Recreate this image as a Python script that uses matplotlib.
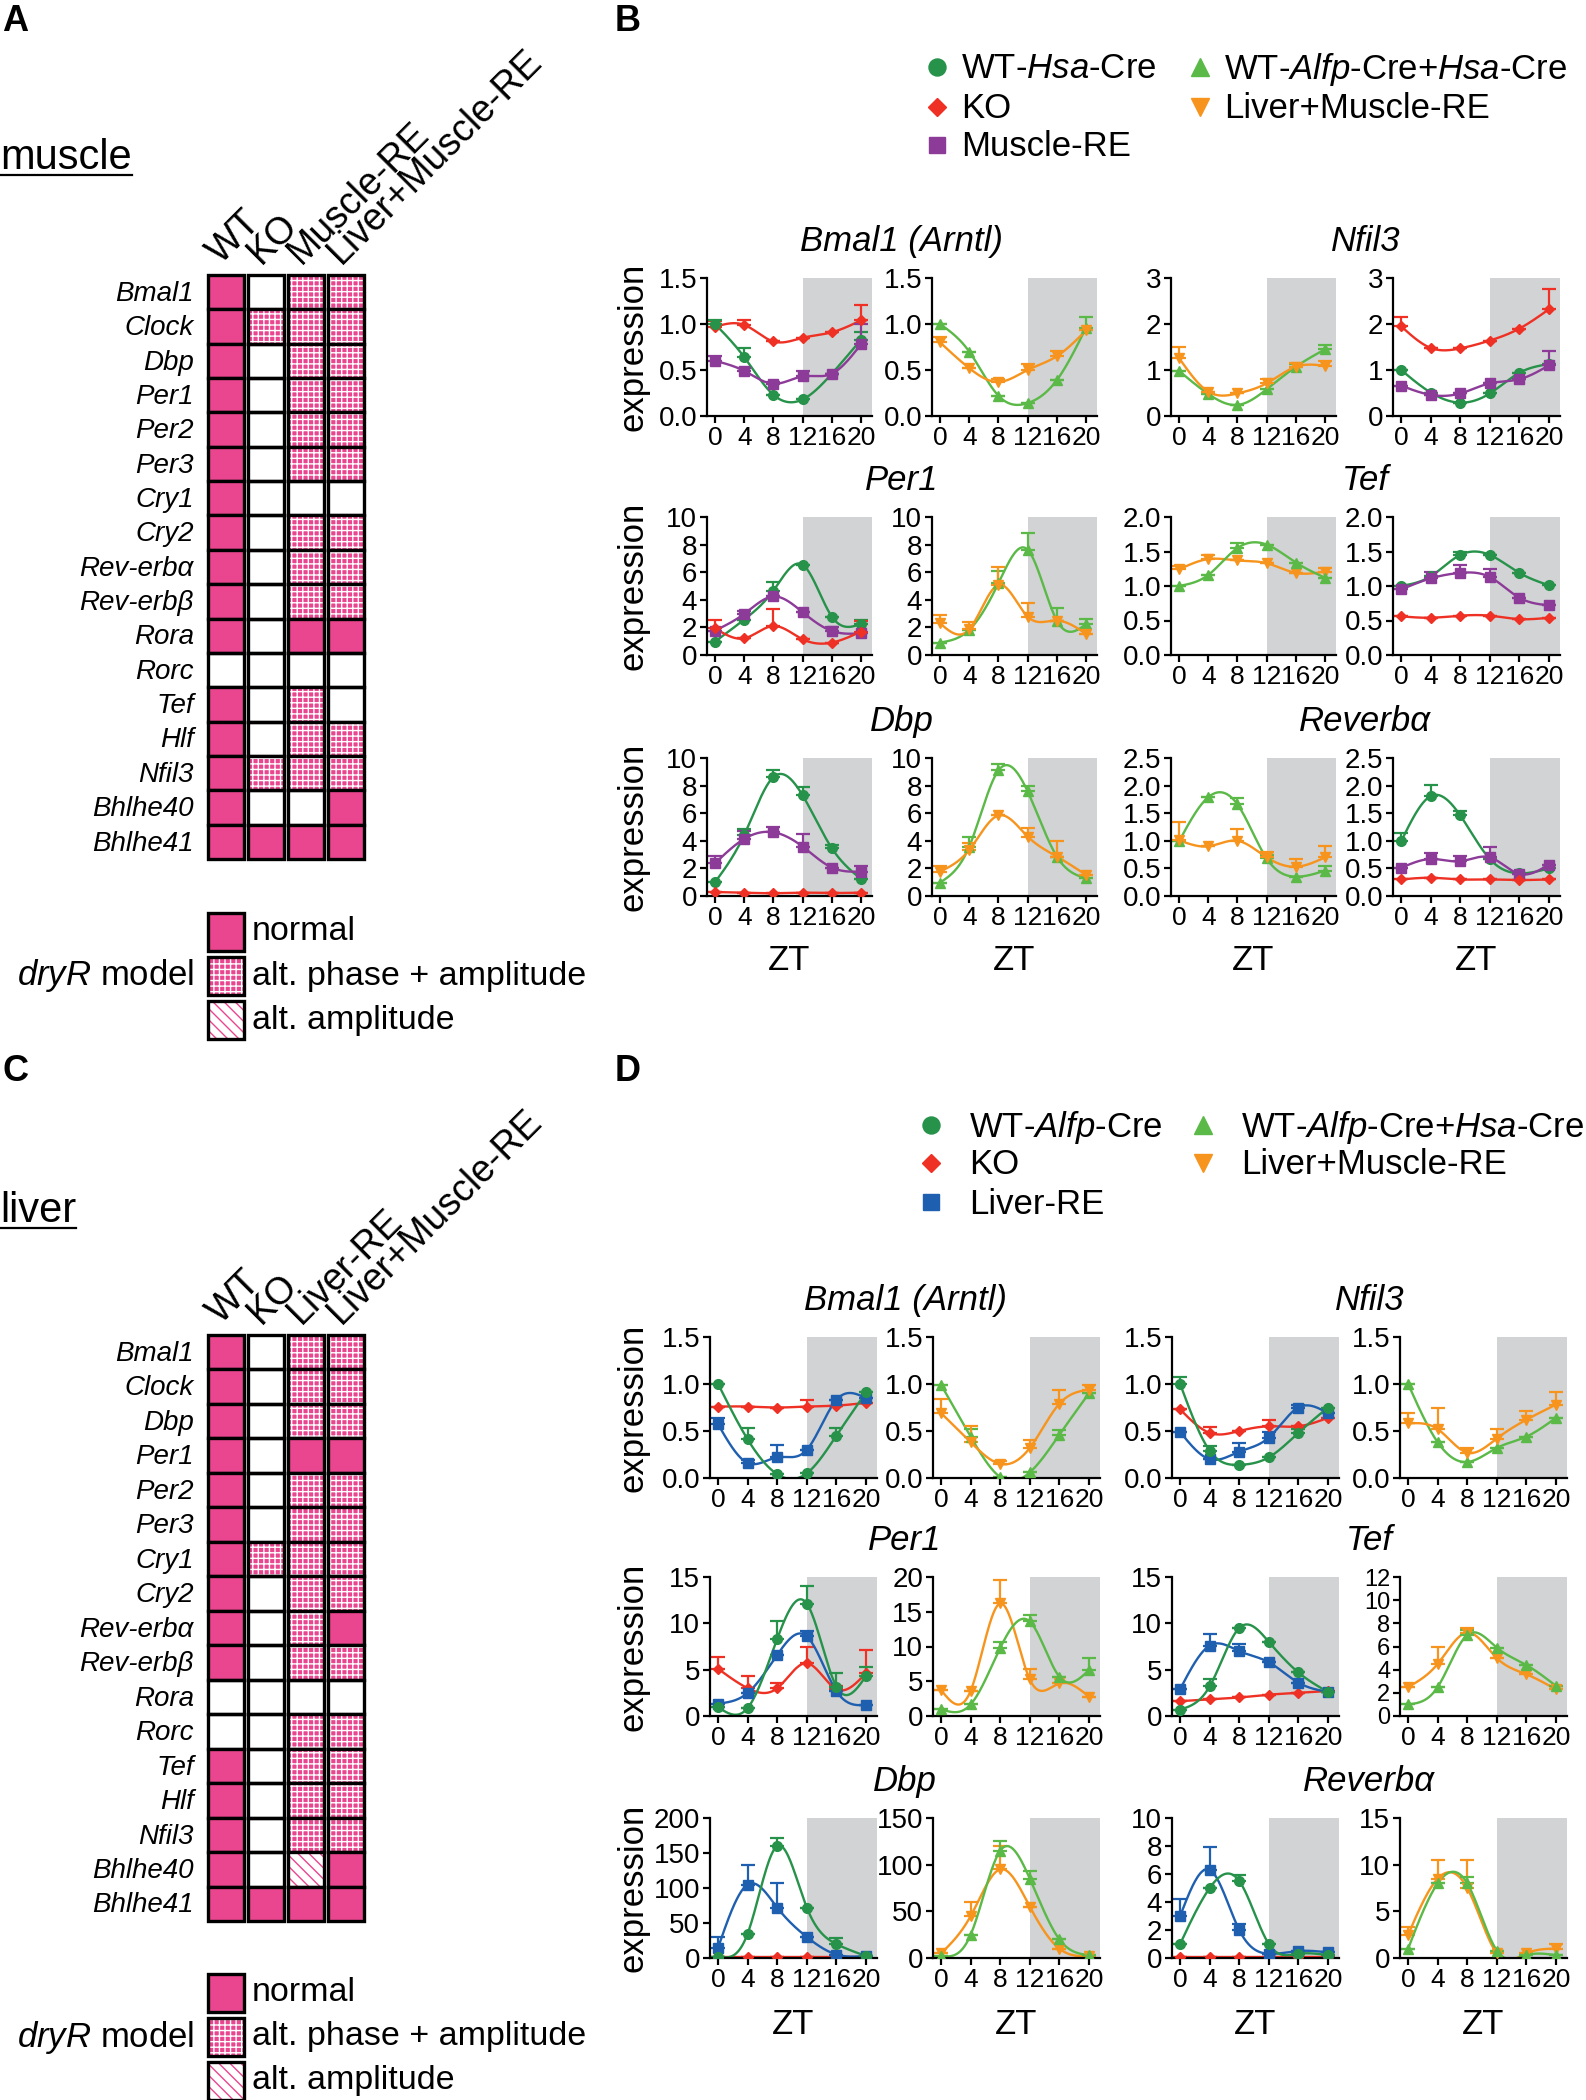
import numpy as np
import matplotlib
import matplotlib.pyplot as plt
from matplotlib.patches import Rectangle

plt.rcParams['font.family'] = ['Liberation Sans', 'DejaVu Sans']
plt.rcParams['mathtext.fontset'] = 'custom'
plt.rcParams['mathtext.rm'] = 'Liberation Sans'
plt.rcParams['mathtext.it'] = 'Liberation Sans:italic'
plt.rcParams['hatch.linewidth'] = 1.0

# ---------------- heatmap data (A = muscle, C = liver) ----------------
# 0 = not rhythmic, 1 = normal, 2 = alt. phase + amplitude, 3 = alt. amplitude
genes = ['Bmal1', 'Clock', 'Dbp', 'Per1', 'Per2', 'Per3', 'Cry1', 'Cry2',
         'Rev-erbα', 'Rev-erbβ', 'Rora', 'Rorc', 'Tef', 'Hlf', 'Nfil3',
         'Bhlhe40', 'Bhlhe41']
muscle_cols = ['WT', 'KO', 'Muscle-RE', 'Liver+Muscle-RE']
liver_cols = ['WT', 'KO', 'Liver-RE', 'Liver+Muscle-RE']
muscle_codes = [[1, 0, 2, 2], [1, 2, 2, 2], [1, 0, 2, 2], [1, 0, 2, 2],
                [1, 0, 2, 2], [1, 0, 2, 2], [1, 0, 0, 0], [1, 0, 2, 2],
                [1, 0, 2, 2], [1, 0, 2, 2], [1, 0, 1, 1], [0, 0, 0, 0],
                [1, 0, 2, 0], [1, 0, 2, 2], [1, 2, 2, 2], [1, 0, 0, 1],
                [1, 1, 1, 1]]
liver_codes = [[1, 0, 2, 2], [1, 0, 2, 2], [1, 0, 2, 2], [1, 0, 1, 1],
               [1, 0, 2, 2], [1, 0, 2, 2], [1, 2, 2, 2], [1, 0, 2, 2],
               [1, 0, 2, 1], [1, 0, 2, 2], [0, 0, 0, 0], [0, 0, 2, 2],
               [1, 0, 2, 2], [1, 0, 2, 2], [1, 0, 2, 2], [1, 0, 3, 1],
               [1, 1, 1, 1]]
legend_labels = ['normal', 'alt. phase + amplitude', 'alt. amplitude']

# ---------------- time course data (mean, upper SEM) ----------------
zt = [0, 4, 8, 12, 16, 20]

# B: muscle
b_bmal1_l = {'ko': ([0.97, 0.99, 0.81, 0.85, 0.91, 1.04], [0.06, 0.05, 0, 0, 0, 0.17]),
             'wt_hsa': ([1.0, 0.64, 0.23, 0.18, 0.46, 0.83], [0.04, 0.1, 0, 0, 0, 0.08]),
             'muscle_re': ([0.6, 0.49, 0.35, 0.43, 0.46, 0.78], [0.05, 0.03, 0.02, 0.06, 0, 0.22])}
b_bmal1_r = {'wt_alfp_hsa': ([1.0, 0.7, 0.22, 0.14, 0.39, 0.96], [0, 0, 0, 0, 0, 0.12]),
             'lm_re': ([0.8, 0.52, 0.37, 0.5, 0.65, 0.93], [0.06, 0, 0.03, 0.07, 0.06, 0])}
b_nfil3_l = {'wt_alfp_hsa': ([0.98, 0.48, 0.24, 0.58, 1.07, 1.45], [0, 0, 0, 0, 0.05, 0.1]),
             'lm_re': ([1.26, 0.53, 0.49, 0.71, 1.07, 1.09], [0.23, 0, 0, 0.1, 0.08, 0.1])}
b_nfil3_r = {'ko': ([1.95, 1.48, 1.47, 1.64, 1.9, 2.32], [0.2, 0, 0, 0, 0, 0.45]),
             'wt_hsa': ([1.0, 0.51, 0.29, 0.49, 0.94, 1.13], [0, 0, 0, 0, 0, 0]),
             'muscle_re': ([0.66, 0.46, 0.49, 0.71, 0.8, 1.1], [0, 0, 0, 0, 0, 0.32])}
b_per1_l = {'wt_hsa': ([0.97, 2.57, 4.67, 6.54, 2.78, 2.25], [0, 0, 0.6, 0, 0, 0.3]),
            'muscle_re': ([1.77, 2.98, 4.24, 3.1, 1.74, 1.57], [0, 0.2, 0, 0, 0.3, 0]),
            'ko': ([1.94, 1.21, 2.1, 1.14, 0.9, 1.7], [0.6, 0, 1.2, 0, 0, 0.8])}
b_per1_r = {'wt_alfp_hsa': ([0.9, 1.82, 5.2, 7.63, 2.5, 2.23], [0, 0, 0.9, 1.2, 0.9, 0.4]),
            'lm_re': ([2.3, 1.86, 5.08, 2.78, 2.5, 1.53], [0.6, 0.5, 1.3, 1.0, 0, 0])}
b_tef_l = {'lm_re': ([1.24, 1.39, 1.37, 1.33, 1.19, 1.21], [0.05, 0.06, 0, 0, 0, 0.05]),
           'wt_alfp_hsa': ([1.0, 1.16, 1.55, 1.6, 1.34, 1.12], [0, 0, 0.08, 0, 0, 0])}
b_tef_r = {'wt_hsa': ([1.0, 1.14, 1.45, 1.45, 1.19, 1.01], [0, 0, 0.05, 0, 0, 0]),
           'muscle_re': ([0.95, 1.11, 1.19, 1.13, 0.83, 0.72], [0, 0.1, 0.11, 0.11, 0, 0]),
           'ko': ([0.56, 0.54, 0.57, 0.57, 0.52, 0.54], [0, 0, 0, 0, 0, 0])}
b_dbp_l = {'wt_hsa': ([1.0, 4.43, 8.62, 7.29, 3.46, 1.23], [0, 0.4, 0.5, 0.6, 0.2, 0]),
           'muscle_re': ([2.37, 4.14, 4.62, 3.58, 2.06, 1.77], [0.5, 0.6, 0.4, 0.9, 0, 0.4]),
           'ko': ([0.29, 0.24, 0.2, 0.24, 0.22, 0.24], [0, 0, 0, 0, 0, 0])}
b_dbp_r = {'wt_alfp_hsa': ([0.97, 3.58, 9.1, 7.58, 2.86, 1.28], [0, 0.7, 0.5, 0.4, 0, 0]),
           'lm_re': ([1.77, 3.34, 5.84, 4.31, 2.86, 1.53], [0.4, 0.5, 0, 0.6, 1.1, 0])}
b_rev_l = {'wt_alfp_hsa': ([0.99, 1.79, 1.66, 0.68, 0.35, 0.46], [0, 0, 0.12, 0.07, 0, 0.08]),
           'lm_re': ([1.01, 0.9, 1.0, 0.7, 0.53, 0.7], [0.33, 0, 0.22, 0.1, 0.14, 0.2])}
b_rev_r = {'wt_hsa': ([0.99, 1.81, 1.46, 0.67, 0.41, 0.5], [0.15, 0.2, 0.08, 0, 0, 0]),
           'muscle_re': ([0.51, 0.67, 0.63, 0.7, 0.4, 0.57], [0, 0.1, 0.1, 0.18, 0, 0]),
           'ko': ([0.3, 0.33, 0.3, 0.3, 0.29, 0.3], [0, 0, 0, 0, 0, 0])}

# D: liver
d_bmal1_l = {'ko': ([0.76, 0.76, 0.75, 0.76, 0.77, 0.8], [0, 0, 0, 0.07, 0, 0]),
             'liver_re': ([0.57, 0.16, 0.22, 0.3, 0.83, 0.85], [0.07, 0.03, 0.13, 0, 0, 0]),
             'wt_alfp': ([1.0, 0.41, 0.04, 0.05, 0.45, 0.91], [0, 0.12, 0, 0, 0.08, 0])}
d_bmal1_r = {'wt_alfp_hsa': ([0.99, 0.44, 0.01, 0.06, 0.46, 0.9], [0, 0.08, 0, 0, 0.05, 0]),
             'lm_re': ([0.69, 0.38, 0.15, 0.32, 0.79, 0.94], [0.15, 0.17, 0.03, 0.08, 0.15, 0.05])}
d_nfil3_l = {'ko': ([0.73, 0.48, 0.5, 0.55, 0.55, 0.64], [0, 0.06, 0, 0.07, 0, 0]),
             'liver_re': ([0.49, 0.2, 0.28, 0.43, 0.75, 0.69], [0, 0, 0.09, 0.06, 0.03, 0]),
             'wt_alfp': ([1.0, 0.29, 0.14, 0.22, 0.48, 0.75], [0.07, 0.05, 0, 0, 0.04, 0])}
d_nfil3_r = {'wt_alfp_hsa': ([1.0, 0.38, 0.17, 0.32, 0.44, 0.64], [0, 0, 0, 0, 0, 0]),
             'lm_re': ([0.58, 0.52, 0.27, 0.42, 0.62, 0.78], [0.11, 0.22, 0.05, 0.1, 0.09, 0.13])}
d_per1_l = {'ko': ([5.09, 3.0, 3.0, 5.7, 2.89, 4.62], [1.3, 1.3, 0.6, 1.8, 0.4, 2.5]),
            'liver_re': ([1.34, 2.49, 6.6, 8.6, 2.7, 1.19], [0, 0, 0, 0.6, 0, 0]),
            'wt_alfp': ([0.94, 0.87, 8.34, 12.13, 3.18, 4.3], [0, 0, 1.9, 1.9, 1.5, 1.0])}
d_per1_r = {'lm_re': ([3.73, 3.64, 16.2, 5.26, 4.69, 2.78], [0, 0, 3.3, 1.5, 0, 0]),
            'wt_alfp_hsa': ([0.96, 1.67, 9.8, 13.6, 5.65, 6.6], [0, 0, 0.9, 1.0, 0, 1.8])}
d_tef_l = {'ko': ([1.6, 1.8, 2.0, 2.3, 2.5, 2.7], [0, 0, 0, 0, 0, 0]),
           'liver_re': ([2.9, 7.6, 7.0, 5.8, 3.6, 2.6], [0, 1.3, 0.8, 0, 0, 0]),
           'wt_alfp': ([0.7, 3.2, 9.5, 8.0, 4.7, 2.6], [0, 0.8, 0, 0, 0, 0])}
d_tef_r = {'lm_re': ([2.5, 4.5, 7.2, 5.0, 3.6, 2.3], [0, 1.5, 0.4, 0, 0, 0]),
           'wt_alfp_hsa': ([1.0, 2.5, 7.0, 5.9, 4.4, 2.6], [0, 0, 0.4, 0, 0, 0])}
d_dbp_l = {'ko': ([2, 2, 2, 2, 2, 2], [0, 0, 0, 0, 0, 0]),
           'liver_re': ([15, 105, 72, 30, 5, 3], [15, 28, 35, 0, 0, 0]),
           'wt_alfp': ([2, 35, 160, 72, 20, 3], [0, 0, 12, 0, 8, 0])}
d_dbp_r = {'lm_re': ([5, 45, 95, 55, 10, 2], [0, 15, 25, 0, 0, 0]),
           'wt_alfp_hsa': ([2, 25, 115, 85, 20, 3], [0, 0, 10, 8, 0, 0])}
d_rev_l = {'ko': ([0.1, 0.1, 0.1, 0.1, 0.1, 0.1], [0, 0, 0, 0, 0, 0]),
           'liver_re': ([3.0, 6.3, 2.0, 0.3, 0.5, 0.4], [1.2, 1.6, 0.4, 0, 0, 0]),
           'wt_alfp': ([1.0, 5.0, 5.5, 1.0, 0.3, 0.2], [0, 0, 0.4, 0, 0, 0])}
d_rev_r = {'lm_re': ([2.5, 8.5, 7.5, 0.5, 0.5, 1.0], [0.8, 2.0, 3.0, 0, 0, 0.5]),
           'wt_alfp_hsa': ([1.0, 8.0, 8.0, 0.8, 0.3, 0.3], [0, 0, 0.7, 0, 0, 0])}

b_titles = ['Bmal1 (Arntl)', 'Nfil3', 'Per1', 'Tef', 'Dbp', 'Reverbα']
b_grid = [[b_bmal1_l, b_bmal1_r, b_nfil3_l, b_nfil3_r],
          [b_per1_l, b_per1_r, b_tef_l, b_tef_r],
          [b_dbp_l, b_dbp_r, b_rev_l, b_rev_r]]
b_yticks = [[[0, 0.5, 1, 1.5], [0, 0.5, 1, 1.5], [0, 1, 2, 3], [0, 1, 2, 3]],
            [[0, 2, 4, 6, 8, 10], [0, 2, 4, 6, 8, 10], [0, 0.5, 1, 1.5, 2], [0, 0.5, 1, 1.5, 2]],
            [[0, 2, 4, 6, 8, 10], [0, 2, 4, 6, 8, 10], [0, 0.5, 1, 1.5, 2, 2.5], [0, 0.5, 1, 1.5, 2, 2.5]]]
d_grid = [[d_bmal1_l, d_bmal1_r, d_nfil3_l, d_nfil3_r],
          [d_per1_l, d_per1_r, d_tef_l, d_tef_r],
          [d_dbp_l, d_dbp_r, d_rev_l, d_rev_r]]
d_yticks = [[[0, 0.5, 1, 1.5], [0, 0.5, 1, 1.5], [0, 0.5, 1, 1.5], [0, 0.5, 1, 1.5]],
            [[0, 5, 10, 15], [0, 5, 10, 15, 20], [0, 5, 10, 15], [0, 2, 4, 6, 8, 10, 12]],
            [[0, 50, 100, 150, 200], [0, 50, 100, 150], [0, 2, 4, 6, 8, 10], [0, 5, 10, 15]]]

styles = {'wt_hsa': ('#26924a', 'o', 7), 'wt_alfp': ('#26924a', 'o', 7),
          'ko': ('#ee3124', 'D', 5.5), 'muscle_re': ('#8c3b98', 's', 6.5),
          'liver_re': ('#1f5fb0', 's', 6.5), 'wt_alfp_hsa': ('#5bb947', '^', 7.5),
          'lm_re': ('#f7941d', 'v', 7.5)}
b_legend = [('wt_hsa', 'WT-$\\mathit{Hsa}$-Cre'), ('ko', 'KO'), ('muscle_re', 'Muscle-RE'),
            ('wt_alfp_hsa', 'WT-$\\mathit{Alfp}$-Cre+$\\mathit{Hsa}$-Cre'), ('lm_re', 'Liver+Muscle-RE')]
d_legend = [('wt_alfp', 'WT-$\\mathit{Alfp}$-Cre'), ('ko', 'KO'), ('liver_re', 'Liver-RE'),
            ('wt_alfp_hsa', 'WT-$\\mathit{Alfp}$-Cre+$\\mathit{Hsa}$-Cre'), ('lm_re', 'Liver+Muscle-RE')]

PINK = '#e9468f'
SHADE = '#d1d3d4'
W, H = 1586, 2100
fig = plt.figure(figsize=(W / 100, H / 100), dpi=100)


def axbox(l, t, r, b):
    return [l / W, 1 - b / H, (r - l) / W, (b - t) / H]


# overlay in pixel coords for labels / legends
ov = fig.add_axes([0, 0, 1, 1])
ov.set_xlim(0, W)
ov.set_ylim(H, 0)
ov.axis('off')


def cell(ax, x, y, w, h, code):
    if code == 1:
        ax.add_patch(Rectangle((x, y), w, h, facecolor=PINK, lw=0, clip_on=False))
    elif code == 2:
        ax.add_patch(Rectangle((x, y), w, h, facecolor=PINK, edgecolor='white',
                               hatch='+++', lw=0, clip_on=False))
    elif code == 3:
        ax.add_patch(Rectangle((x, y), w, h, facecolor='white', edgecolor=PINK,
                               hatch='\\\\\\', lw=0, clip_on=False))
    ax.add_patch(Rectangle((x, y), w, h, fill=False, edgecolor='black', lw=2.4, clip_on=False))


def heatmap(top, bottom, cols, codes):
    ax = fig.add_axes(axbox(206, top, 366, bottom))
    ax.set_xlim(0, 4)
    ax.set_ylim(len(genes), 0)
    ax.axis('off')
    for r, row in enumerate(codes):
        for c, v in enumerate(row):
            cell(ax, c + 0.05, r, 0.9, 1, v)
    for r, g in enumerate(genes):
        ax.text(-0.3, r + 0.55, g, ha='right', va='center', style='italic', fontsize=20)
    for c, lab in enumerate(cols):
        ax.text(c + 0.38, -0.3, lab, rotation=45, rotation_mode='anchor',
                ha='left', va='baseline', fontsize=27)


def heat_legend(top):
    ax = fig.add_axes(axbox(206, top, 246, top + 3 * 44))
    ax.set_xlim(0, 1)
    ax.set_ylim(3, 0)
    ax.axis('off')
    for i, lab in enumerate(legend_labels):
        cell(ax, 0.05, i + 0.07, 0.9, 0.86, i + 1)
        ax.text(1.15, i + 0.5, lab, ha='left', va='center', fontsize=24.5)
    ax.text(-0.3, 1.5, '$\\mathit{dryR}$ model', ha='right', va='center', fontsize=25)


def spline(x, y, n=200):
    x = np.asarray(x, float)
    y = np.asarray(y, float)
    k = len(x)
    h = np.diff(x)
    A = np.zeros((k, k))
    rhs = np.zeros(k)
    A[0, 0] = A[-1, -1] = 1
    for i in range(1, k - 1):
        A[i, i - 1] = h[i - 1]
        A[i, i] = 2 * (h[i - 1] + h[i])
        A[i, i + 1] = h[i]
        rhs[i] = 3 * ((y[i + 1] - y[i]) / h[i] - (y[i] - y[i - 1]) / h[i - 1])
    c = np.linalg.solve(A, rhs)
    xs = np.linspace(x[0], x[-1], n)
    idx = np.clip(np.searchsorted(x, xs) - 1, 0, k - 2)
    dx = xs - x[idx]
    b = (y[idx + 1] - y[idx]) / h[idx] - h[idx] * (2 * c[idx] + c[idx + 1]) / 3
    d = (c[idx + 1] - c[idx]) / (3 * h[idx])
    return xs, y[idx] + b * dx + c[idx] * dx ** 2 + d * dx ** 3


def time_panel(ax, series, yticks):
    ax.axvspan(12, 21.5, color=SHADE, lw=0, zorder=0)
    for key, (mean, err) in series.items():
        col, mk, ms = styles[key]
        xs, ys = spline(zt, mean)
        ax.plot(xs, ys, color=col, lw=1.7, zorder=2)
        ax.errorbar(zt, mean, yerr=[np.zeros(len(err)), err], fmt='none', ecolor=col,
                    elinewidth=1.6, capsize=5, capthick=1.6, zorder=2)
        ax.plot(zt, mean, ls='none', marker=mk, color=col, ms=ms, zorder=3)
    ax.set_xlim(-1.1, 21.5)
    ax.set_ylim(0, yticks[-1])
    ax.set_xticks(zt)
    ax.set_yticks(yticks)
    if any(t != int(t) for t in yticks):
        ax.set_yticklabels(['%.1f' % t for t in yticks])
    else:
        ax.set_yticklabels(['%d' % t for t in yticks])
    for s in ['top', 'right']:
        ax.spines[s].set_visible(False)
    for s in ['left', 'bottom']:
        ax.spines[s].set_linewidth(1.6)
    ax.tick_params(width=1.6, length=5, pad=2)
    ax.tick_params(axis='x', labelsize=19)
    ax.tick_params(axis='y', labelsize=20 if len(yticks) < 7 else 17)
    ax.set_facecolor('none')


def time_block(grid, yticks, cols, rows, titles, zt_y):
    for r, (top, bottom) in enumerate(rows):
        for c, (left, right) in enumerate(cols):
            ax = fig.add_axes(axbox(left, top, right, bottom))
            time_panel(ax, grid[r][c], yticks[r][c])
        ov.text(633, (top + bottom) / 2, 'expression', rotation=90, ha='center',
                va='center', fontsize=25)
        for k in range(2):
            cx = (cols[2 * k][0] + cols[2 * k + 1][1]) / 2
            ov.text(cx, top - 27, titles[2 * r + k], style='italic', ha='center',
                    va='baseline', fontsize=25)
    for left, right in cols:
        ov.text((left + right) / 2, zt_y, 'ZT', ha='center', va='center', fontsize=25)


def series_legend(entries, positions, text_dx):
    for (key, lab), (x, y) in zip(entries, positions):
        col, mk, ms = styles[key]
        ov.plot([x], [y], ls='none', marker=mk, color=col, ms=ms * 1.75)
        ov.text(x + text_dx, y + 2, lab, ha='left', va='center', fontsize=25)


# panel letters and tissue headings
for lab, x, y in [('A', 2, 4), ('B', 615, 4), ('C', 2, 1054), ('D', 615, 1054)]:
    ov.text(x, y, lab, ha='left', va='top', fontsize=26, fontweight='bold')
for lab, y in [('muscle', 169), ('liver', 1222)]:
    t = ov.text(0, y, lab, ha='left', va='baseline', fontsize=30)
    bb = t.get_window_extent(renderer=fig.canvas.get_renderer())
    ov.plot([bb.x0, bb.x1], [y + 6, y + 6], color='black', lw=1.6)

heatmap(275, 859, muscle_cols, muscle_codes)
heat_legend(910)
heatmap(1335, 1921, liver_cols, liver_codes)
heat_legend(1971)

time_block(b_grid, b_yticks,
           [(707, 872), (932, 1097), (1171, 1336), (1393, 1560)],
           [(278, 416), (517, 655), (758, 896)], b_titles, 960)
time_block(d_grid, d_yticks,
           [(710, 877), (933, 1100), (1172, 1339), (1400, 1567)],
           [(1337, 1478), (1577, 1716), (1818, 1958)], b_titles, 2025)

series_legend(b_legend, [(937, 67), (937, 107), (937, 145), (1200, 67), (1200, 107)], 24)
series_legend(d_legend, [(931, 1125), (931, 1163), (931, 1202), (1203, 1125), (1203, 1163)], 38)

fig.savefig('out.png', dpi=100)
